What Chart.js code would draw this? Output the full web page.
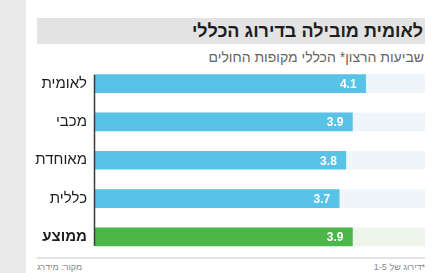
<!DOCTYPE html>
<html lang="he">
<head>
<meta charset="utf-8">
<script src="https://cdn.jsdelivr.net/npm/chart.js@4"></script>
<style>
  html, body { margin: 0; padding: 0; }
  body { width: 442px; height: 273px; position: relative; background: #fff; overflow: hidden;
         font-family: "Liberation Sans", Arial, sans-serif; }
  .strip { position: absolute; left: 0; top: 0; width: 26px; height: 273px; background: #e9e9e9; }
  .title { position: absolute; left: 37px; top: 18px; width: 388px; height: 26px; background: #e3e3e3; }
  .title span { position: absolute; right: 2px; top: 3px; font-size: 18px; font-weight: bold; color: #1e1e1e; }
  .sub { position: absolute; right: 18px; top: 49px; font-size: 14px; color: #666; }
  .foot-line { position: absolute; left: 37px; top: 257px; width: 388px; height: 2px; background: #e2e2e2; }
  .foot { position: absolute; top: 262px; font-size: 9px; color: #888; }
  #c { position: absolute; left: 0; top: 0; }
</style>
</head>
<body>
<div class="strip"></div>
<div class="title"><span dir="rtl">לאומית מובילה בדירוג הכללי</span></div>
<div class="sub" dir="rtl">שביעות הרצון* הכללי מקופות החולים</div>
<div class="foot-line"></div>
<div class="foot" style="left:37px" dir="rtl">מקור: מידרג</div>
<div class="foot" style="right:17px" dir="rtl">*דירוג של 1-5</div>
<canvas id="c" width="442" height="273"></canvas>
<script>
// data
const categories = ['לאומית', 'מכבי', 'מאוחדת', 'כללית', 'ממוצע'];
const scores = [4.1, 3.9, 3.8, 3.7, 3.9];
const scaleMax = 5;
const trackValues = [5, 5, 5, 5, 5];

const barColors = ['#58c3e6', '#58c3e6', '#58c3e6', '#58c3e6', '#4cb64a'];
const trackColors = ['#eef6fc', '#eef6fc', '#eef6fc', '#eef6fc', '#eef5eb'];

// white value inside the end of each bar
const valueLabels = {
    id: 'valueLabels',
    afterDatasetsDraw(chart) {
        const ctx = chart.ctx;
        const meta = chart.getDatasetMeta(0);
        ctx.save();
        ctx.fillStyle = '#fff';
        ctx.font = 'bold 12px "Liberation Sans", Arial, sans-serif';
        ctx.textAlign = 'right';
        ctx.textBaseline = 'middle';
        meta.data.forEach((bar, i) => {
            ctx.fillText(scores[i].toFixed(1), bar.x - 9, bar.y + 1);
        });
        ctx.restore();
    }
};

// dark axis line only as tall as the bars
const axisLine = {
    id: 'axisLine',
    afterDatasetsDraw(chart) {
        const meta = chart.getDatasetMeta(0);
        const first = meta.data[0], last = meta.data[meta.data.length - 1];
        const ctx = chart.ctx;
        ctx.save();
        ctx.strokeStyle = '#3a3a3a';
        ctx.lineWidth = 1.5;
        ctx.beginPath();
        ctx.moveTo(chart.chartArea.left - 0.5, first.y - first.height / 2);
        ctx.lineTo(chart.chartArea.left - 0.5, last.y + last.height / 2);
        ctx.stroke();
        ctx.restore();
    }
};

new Chart(document.getElementById('c'), {
    type: 'bar',
    data: {
        labels: categories,
        datasets: [
            { data: scores, backgroundColor: barColors, barThickness: 18, grouped: false },
            { data: trackValues, backgroundColor: trackColors, barThickness: 18, grouped: false }
        ]
    },
    options: {
        indexAxis: 'y',
        responsive: false,
        animation: false,
        layout: { padding: { top: 64.5, bottom: 14, right: 17, left: 0 } },
        scales: {
            x: { display: false, min: 0, max: scaleMax },
            y: {
                grid: { display: false, drawTicks: false },
                border: { display: false },
                afterFit(scale) { scale.width = 95; },
                ticks: {
                    padding: 8,
                    color: '#1e1e1e',
                    font: (c) => ({
                        family: '"Liberation Sans", Arial, sans-serif',
                        size: 15,
                        weight: c.index === categories.length - 1 ? 'bold' : 'normal'
                    })
                }
            }
        },
        plugins: { legend: { display: false }, tooltip: { enabled: false } }
    },
    plugins: [valueLabels, axisLine]
});
</script>
</body>
</html>
